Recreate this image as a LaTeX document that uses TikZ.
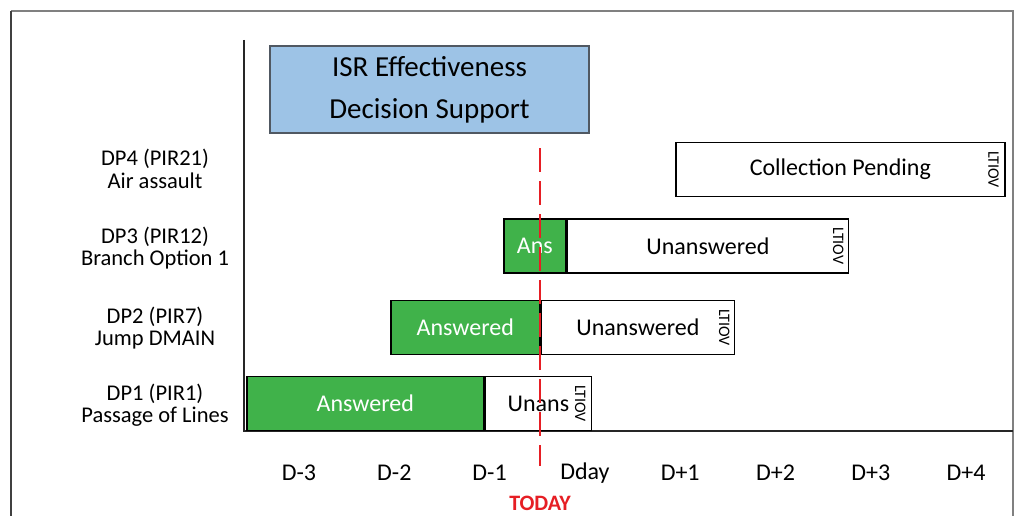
\documentclass[tikz,border=0pt]{standalone}
\usepackage{fontspec}
\setmainfont{Carlito}
\usepackage{tikz}
\usetikzlibrary{calc}
\usetikzlibrary{positioning}

\definecolor{ansgreen}{RGB}{64,178,74}
\definecolor{isrblue}{RGB}{157,195,230}
\definecolor{isrframe}{RGB}{80,88,98}
\definecolor{todayred}{RGB}{230,30,36}
\definecolor{framegray}{RGB}{128,128,128}

\begin{document}
\begin{tikzpicture}[x=1pt, y=-1pt,
    every node/.style={inner sep=0pt},
    barlbl/.style={font=\fontsize{24}{24}\selectfont},
    ansbox/.style={barlbl, fill=ansgreen, draw=black, line width=1.6pt, text=white, minimum height=54, anchor=west},
    pendbox/.style={barlbl, fill=white, draw=black, line width=1.6pt, minimum height=54, anchor=west},
    ltiov/.style={font=\fontsize{16}{16}\selectfont, rotate=-90},
    rowlbl/.style={align=center, font=\fontsize{22.5}{22.5}\selectfont},
    daylbl/.style={font=\fontsize{24}{24}\selectfont}]

\useasboundingbox (0,0) rectangle (1016,516);

% --- FRAME AND AXES ---
\draw[framegray, line width=1.5pt] (11,11) -- (1013,11) -- (1013,516);
\draw[black!75, line width=1.5pt] (11,11) -- (11,516);
\draw[black!85, line width=1.8pt] (244,40) -- (244,431) -- (1013,431);

% --- ISR BOX (Top) ---
\node[fill=isrblue, draw=isrframe, line width=1.2pt, minimum width=319, minimum height=87,
      align=center, font=\fontsize{29}{42}\selectfont] (isr) at (429.5,89.5)
    {ISR Effectiveness\\Decision Support};

% --- DECISION POINTS (rows) ---
\node[rowlbl] (dp4) at (155,169) {DP4 (PIR21)\\Air assault};
\node[rowlbl] (dp3) at (155,248) {DP3 (PIR12)\\Branch Option 1};
\node[rowlbl] (dp2) at (155,328) {DP2 (PIR7)\\Jump DMAIN};
\node[rowlbl] (dp1) at (155,405) {DP1 (PIR1)\\Passage of Lines};

% DP4 : pending only
\node[pendbox, minimum width=329] (dp4p) at (675,169.5) {Collection Pending\hspace{8pt}};
\node[ltiov] (dp4l) at ([xshift=-12]dp4p.east) {LTIOV};

% DP3
\node[ansbox, minimum width=62] (dp3a) at (503,246) {Ans};
\node[pendbox, minimum width=281] (dp3u) at (dp3a.east) {Unanswered};
\node[ltiov] (dp3l) at ([xshift=-11]dp3u.east) {LTIOV};

% DP2
\node[ansbox, minimum width=149] (dp2a) at (390,327.5) {Answered};
\node[pendbox, minimum width=193] (dp2u) at (dp2a.east) {Unanswered};
\node[ltiov] (dp2l) at ([xshift=-11]dp2u.east) {LTIOV};

% DP1
\node[ansbox, minimum width=237] (dp1a) at (246,403.5) {Answered};
\node[pendbox, minimum width=106] (dp1u) at (dp1a.east) {Unans\hspace{22pt}};
\node[ltiov] (dp1l) at ([xshift=-12]dp1u.east) {LTIOV};

% --- TIME AXIS (Bottom) ---
\foreach \d [count=\i from 0] in {D-3,D-2,D-1,Dday,D+1,D+2,D+3,D+4}
    \node[daylbl] (day\i) at (299+95.3*\i,473) {\d};

% Today marker
\node[todayred, font=\fontsize{22}{22}\selectfont\bfseries] (today) at (540,503) {TODAY};
\coordinate (todaytop) at (540,148);
\coordinate (todaybot) at (540,466);
\draw[todayred, line width=2.6pt, dash pattern=on 24pt off 9pt] (todaytop) -- (todaybot);

\end{tikzpicture}
\end{document}
